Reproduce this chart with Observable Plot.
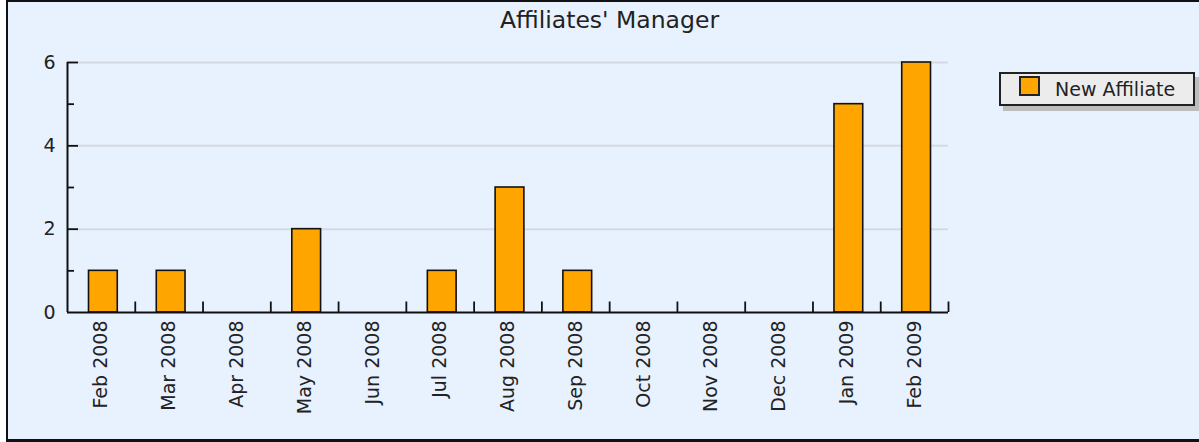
<!DOCTYPE html>
<html>
<head>
<meta charset="utf-8">
<script src="https://cdn.jsdelivr.net/npm/d3@7"></script>
<script src="https://cdn.jsdelivr.net/npm/@observablehq/plot@0.6"></script>
<style>
  html, body { margin: 0; padding: 0; background: #ffffff; overflow: hidden; }
  #wrap { position: relative; width: 1199px; height: 442px; overflow: hidden; }
  #frame { position: absolute; left: 6px; top: 0; width: 1300px; height: 442px; box-sizing: border-box;
           border: 2px solid #111; border-bottom-width: 3px; background: #e8f1fe; }
  #chart { position: absolute; left: 0; top: 0; }
  #title { position: absolute; left: 0; width: 1219px; top: 6px; text-align: center;
           font-family: "DejaVu Sans", sans-serif; font-size: 23.5px; color: #222; }
  #legend { position: absolute; left: 999px; top: 72px; width: 196px; height: 34px; box-sizing: border-box;
            border: 2px solid #222; background: #ececec; box-shadow: 4px 5px 0 #bdbdbd;
            font-family: "DejaVu Sans", sans-serif; font-size: 19px; color: #222; }
  #legend .sw { position: absolute; left: 18px; top: 2px; width: 21px; height: 20px; box-sizing: border-box;
                border: 2px solid #222; background: #FFA500; }
  #legend .lb { position: absolute; left: 54px; top: 4px; line-height: 22px; white-space: nowrap; }
</style>
</head>
<body>
<div id="wrap">
  <div id="frame"></div>
  <div id="chart"></div>
  <div id="title">Affiliates' Manager</div>
  <div id="legend"><div class="sw"></div><div class="lb">New Affiliate</div></div>
</div>
<script>
const months = ["Feb 2008","Mar 2008","Apr 2008","May 2008","Jun 2008","Jul 2008","Aug 2008","Sep 2008","Oct 2008","Nov 2008","Dec 2008","Jan 2009","Feb 2009"];
const newAffiliates = [1, 1, 0, 2, 0, 1, 3, 1, 0, 0, 0, 5, 6];
const seriesName = "New Affiliate";
const yTickLabels = [0, 2, 4, 6];
const yMinorTicks = [1, 3, 5];
const gridValues = [2, 4, 6];

const data = months.map((m, i) => ({month: m, idx: i, value: newAffiliates[i]}));
const idxs = months.map((m, i) => i);
const boundaries = months.map((m, i) => i + 0.5);

const chart = Plot.plot({
  width: 1199,
  height: 442,
  marginLeft: 67,
  marginRight: 251,
  marginTop: 62,
  marginBottom: 130,
  style: {background: "transparent", fontFamily: "DejaVu Sans, sans-serif", fontSize: "19px", color: "#222", overflow: "visible"},
  x: {type: "linear", domain: [-0.5, months.length - 0.5]},
  y: {domain: [0, 6]},
  marks: [
    Plot.ruleY(gridValues, {x1: -0.5, x2: months.length - 0.5, stroke: "#d6dae0", strokeWidth: 2}),
    Plot.rectY(data, {x1: d => d.idx - 0.5, x2: d => d.idx + 0.5, y: "value", fill: "#FFA500", stroke: "#111", strokeWidth: 1.6, insetLeft: 21.5, insetRight: 17.5}),
    Plot.ruleY([0], {x1: -0.5, x2: months.length - 0.5, stroke: "#111", strokeWidth: 2}),
    Plot.ruleX([-0.5], {y1: 0, y2: 6, stroke: "#111", strokeWidth: 2}),
    Plot.ruleX(boundaries, {y1: 0, y2: 0, insetTop: -10.5, stroke: "#111", strokeWidth: 1.8}),
    Plot.ruleY(gridValues, {x1: -0.5, x2: -0.5, insetRight: -11, stroke: "#111", strokeWidth: 1.8}),
    Plot.ruleY(yMinorTicks, {x1: -0.5, x2: -0.5, insetRight: -7, stroke: "#111", strokeWidth: 1.8}),
    Plot.axisY({ticks: yTickLabels, tickFormat: d3.format("d"), tickSize: 0, tickPadding: 12, label: null, fontSize: 19}),
    Plot.axisX({ticks: idxs, tickFormat: i => months[i], tickRotate: -90, tickSize: 0, tickPadding: 8, label: null, fontSize: 19})
  ]
});
document.getElementById("chart").appendChild(chart);
document.querySelector("#legend .lb").textContent = seriesName;
</script>
</body>
</html>
